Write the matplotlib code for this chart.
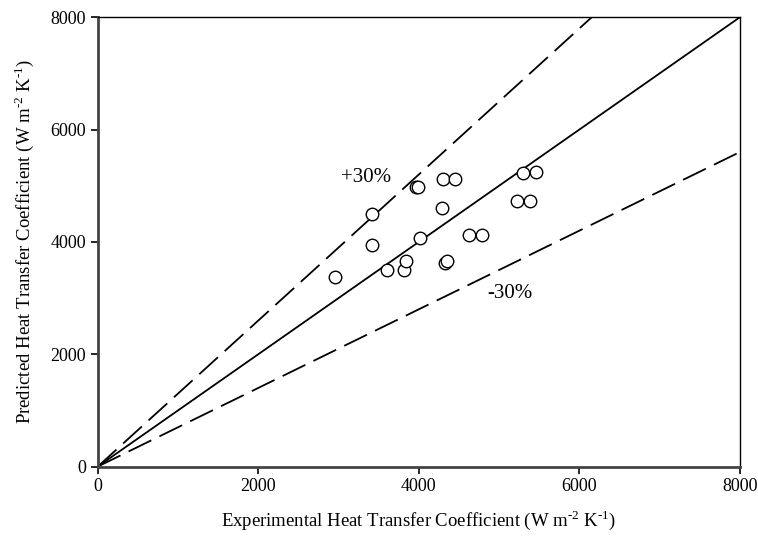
import matplotlib
matplotlib.use("Agg")
import matplotlib.pyplot as plt
import numpy as np

plt.rcParams['font.family'] = ['Liberation Serif', 'DejaVu Serif']
plt.rcParams['mathtext.fontset'] = 'custom'
plt.rcParams['mathtext.rm'] = 'Liberation Serif'

# experimental vs predicted heat transfer coefficient (W m-2 K-1)
experimental = [2955, 3412, 3412, 3599, 3819, 3836, 3964, 3993, 4014, 4292,
                4305, 4450, 4326, 4354, 4628, 4786, 5226, 5384, 5301, 5459]
predicted = [3380, 4498, 3941, 3501, 3501, 3661, 4984, 4984, 4066, 4600,
             5116, 5116, 3620, 3661, 4119, 4119, 4735, 4735, 5233, 5251]

ticks = [0, 2000, 4000, 6000, 8000]
band = 0.30

fig = plt.figure(figsize=(7.58, 5.40), dpi=100)
ax = fig.add_axes([0.129, 0.136, 0.847, 0.832])

xs = np.array([0, 8000])
ax.plot(xs, xs, color='black', lw=1.3)
ax.plot(xs, xs * (1 + band), color='black', lw=1.3, linestyle=(0, (14, 5)))
ax.plot(xs, xs * (1 - band), color='black', lw=1.3, linestyle=(0, (14, 5)))

ax.plot(experimental, predicted, 'o', mfc='white', mec='black', ms=9, mew=1.0)

ax.text(3340, 5140, '+30%', fontsize=15, ha='center', va='center')
ax.text(5140, 3090, '-30%', fontsize=15, ha='center', va='center')

ax.set_xlim(0, 8000)
ax.set_ylim(0, 8000)
ax.set_xticks(ticks)
ax.set_yticks(ticks)
ax.tick_params(direction='out', length=5, width=1.2, labelsize=13, top=False, right=False)

for side in ['left', 'bottom']:
    ax.spines[side].set_linewidth(2)
    ax.spines[side].set_color('#444444')
for side in ['top', 'right']:
    ax.spines[side].set_linewidth(1.0)

unit = r'(W m$^{\text{-2}}$ K$^{\text{-1}}$)'
ax.set_xlabel('Experimental Heat Transfer Coefficient ' + unit, fontsize=13.5, labelpad=9)
ax.set_ylabel('Predicted Heat Transfer Coefficient ' + unit, fontsize=13.5, labelpad=10)

fig.savefig('out.png', dpi=100)
